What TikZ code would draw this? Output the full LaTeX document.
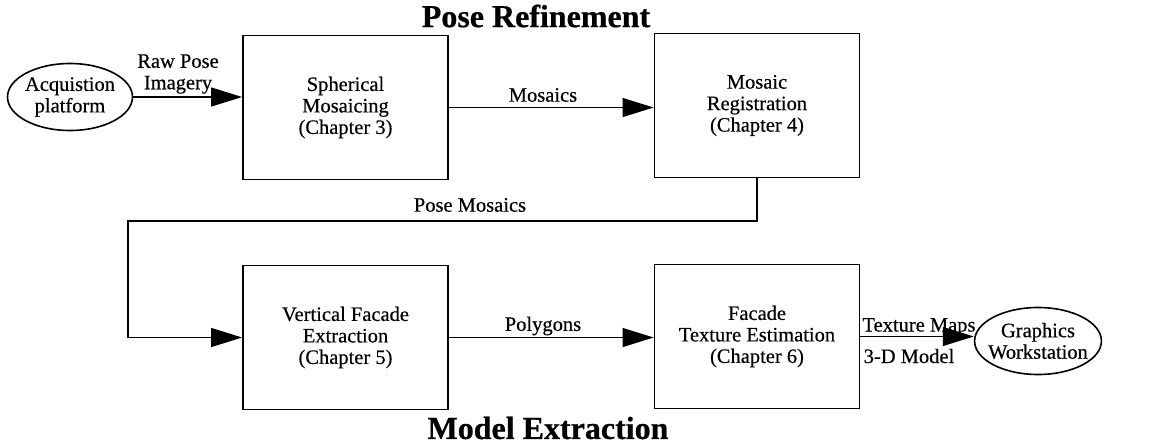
\documentclass[tikz,border=0pt]{standalone}
\usepackage{fontspec}
\setmainfont{Liberation Serif}[FakeBold=0.4]
\newfontfamily\headfont{Liberation Serif}[FakeBold=0.6]
\usetikzlibrary{arrows.meta,shapes.geometric}
\begin{document}
\begin{tikzpicture}[x=1pt,y=-1pt,
  every node/.style={font=\fontsize{20.5}{21.5}\selectfont, align=center, inner sep=0pt},
  procbox/.style={draw, line width=1.8pt, minimum width=205pt, minimum height=144pt},
  terminal/.style={draw, ellipse, line width=1.6pt, inner xsep=-5pt, minimum width=125pt, minimum height=67pt},
  flow/.style={line width=1.2pt, -{Triangle[length=31pt,width=19pt]}},
  title/.style={font=\fontsize{32}{34}\selectfont\headfont\bfseries},
  lbl/.style={}]
  \useasboundingbox (0,0) rectangle (1171,445);

  % section headings
  \node[title] (t1) at (536,16) {Pose Refinement};
  \node[title] (t2) at (548,428) {Model Extraction};

  % processing stages
  \node[procbox] (b1) at (345.5,107.5) {Spherical\\Mosaicing\\(Chapter 3)};
  \node[procbox] (b2) at (757,105.5) {Mosaic\\Registration\\(Chapter 4)};
  \node[procbox] (b3) at (345.5,337.5) {Vertical Facade\\Extraction\\(Chapter 5)};
  \node[procbox] (b4) at (757,336.5) {Facade\\Texture Estimation\\(Chapter 6)};

  % source and sink
  \node[terminal] (src) at (70,97) {Acquistion\\platform};
  \node[terminal] (dst) at (1038,341) {Graphics\\Workstation};

  % connectors
  \draw[flow] (src.east) -- (src.east -| b1.west);
  \draw[flow] (b1.east) -- (b1.east -| b2.west);
  \coordinate (bend) at (128,221);
  \draw[flow] (b2.south) |- (bend) |- (b3.west);
  \draw[flow] (b3.east) -- (b3.east -| b4.west);
  \draw[flow] (b4.east) -- (b4.east -| dst.west);

  % connector labels
  \node[lbl] (l1) at (178,74) {Raw Pose\\Imagery};
  \node[lbl] (l2) at (543,95) {Mosaics};
  \node[lbl] (l3) at (470,205) {Pose Mosaics};
  \node[lbl] (l4) at (543,326) {Polygons};
  \node[lbl] (l5) at (919,327) {Texture Maps};
  \node[lbl] (l6) at (909,356) {3-D Model};
\end{tikzpicture}
\end{document}
